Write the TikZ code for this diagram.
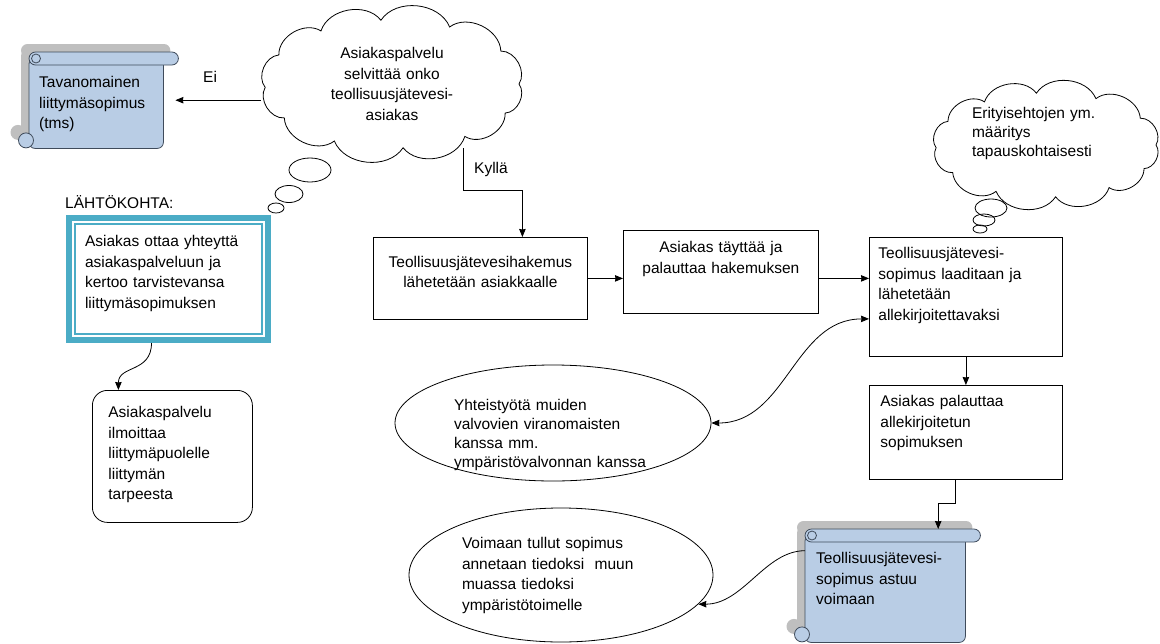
\documentclass[tikz,border=0pt]{standalone}
\usepackage{fontspec}
\setmainfont{Liberation Sans}
\usetikzlibrary{shapes.geometric,arrows.meta,backgrounds}

\definecolor{scrollblue}{HTML}{B9CDE5}
\definecolor{scrolledge}{HTML}{3F4B5B}
\definecolor{shadowgray}{HTML}{BFBFBF}
\definecolor{tealframe}{HTML}{4BACC6}

% scroll outline: node name, style, x offset, y offset
\newcommand\scrollpieces[4]{%
  \path[#2, rounded corners=6pt] ([xshift=#3, yshift=#4, yshift=-6pt]#1.north west) rectangle ([xshift=#3, yshift=#4]#1.south east);
  \path[#2, rounded corners=6.5pt] ([xshift=#3, yshift=#4]#1.north west) rectangle ([xshift=#3, xshift=15pt, yshift=#4, yshift=-13pt]#1.north east);
  \path[#2] ([xshift=#3, xshift=-3pt, yshift=#4, yshift=8pt]#1.south west) circle[radius=7.5pt];
  \path[#2] ([xshift=#3, xshift=7pt, yshift=#4, yshift=-6.5pt]#1.north west) circle[radius=4.5pt];
}
\newcommand\drawscroll[1]{%
  \begin{scope}[on background layer]
    \scrollpieces{#1}{fill=shadowgray}{-8pt}{8pt}
    \scrollpieces{#1}{fill=scrollblue, draw=scrolledge, line width=0.8pt}{0pt}{0pt}
  \end{scope}
}
% cloud outline round a node: node name, x radius, y radius
\newcommand\cloudline[3]{%
  \draw[line width=0.8pt] ([shift={(0:#2 and #3)}]#1.center)
    \foreach \ang in {31,63,95,124,153,183,212,243,275,305,333,360} {to[bend right=62] ([shift={(\ang:#2 and #3)}]#1.center)};
}

\begin{document}
\begin{tikzpicture}[x=1pt, y=1pt,
    diagfont/.style={font=\fontsize{15.5}{20.5}\selectfont},
    tightfont/.style={font=\fontsize{15.5}{19}\selectfont},
    procbox/.style={draw, line width=0.8pt, anchor=north west, inner ysep=0pt, diagfont},
    scrollnode/.style={anchor=north west, inner ysep=0pt, align=left, diagfont},
    oval/.style={ellipse, draw, line width=0.8pt, inner sep=0pt, align=left, diagfont},
    cloudtext/.style={ellipse, inner sep=0pt, diagfont},
    flow/.style={draw, line width=0.8pt, ->, >={Stealth[length=8pt, width=6.5pt, inset=0.5pt]}},
    bubble/.style={draw, line width=0.8pt}]
    \useasboundingbox (0,0) rectangle (1160,-643);

    % Scrolls
    \node[scrollnode, inner xsep=10pt, text width=114pt, text height=35.5pt, text depth=60.5pt] (tavanomainen) at (29,-52) {Tavanomainen\\ liittymäsopimus\\ (tms)};
    \drawscroll{tavanomainen}
    \node[scrollnode, inner xsep=11pt, text width=138pt, text height=34.5pt, text depth=78.5pt] (voimaan) at (805,-529) {Teollisuusjätevesi-\\ sopimus astuu\\ voimaan};
    \drawscroll{voimaan}

    % Thought clouds
    \node[cloudtext, minimum width=262pt, minimum height=146pt, align=center, text width=124pt, text height=11pt, text depth=62pt] (selvitys) at (392,-84) {Asiakaspalvelu\\ selvittää onko\\ teollisuusjätevesi-\\ asiakas};
    \cloudline{selvitys}{127pt}{64pt}
    \draw[bubble] (310,-170) ellipse [x radius=21pt, y radius=12pt];
    \draw[bubble] (289,-194) ellipse [x radius=14pt, y radius=8.5pt];
    \draw[bubble] (276,-208) ellipse [x radius=8pt, y radius=5pt];

    \node[cloudtext, tightfont, minimum width=222pt, minimum height=112pt, align=left, text width=148pt, text height=11pt, text depth=65pt] (erityis) at (1046,-145) {Erityisehtojen ym.\\ määritys\\ tapauskohtaisesti};
    \cloudline{erityis}{110pt}{52pt}
    \draw[bubble] (991,-208) ellipse [x radius=16pt, y radius=9pt];
    \draw[bubble] (984,-220) ellipse [x radius=11pt, y radius=6pt];
    \draw[bubble] (980,-229) ellipse [x radius=7pt, y radius=4pt];

    % Starting point
    \node[diagfont, anchor=base west, inner sep=0pt] (lahtokohta) at (65,-208.5) {LÄHTÖKOHTA:};
    \node[procbox, draw=tealframe, line width=6pt, inner xsep=16pt, align=left, text width=167pt, text height=28.5pt, text depth=93.5pt,
        path picture={\draw[tealframe, line width=1.5pt] ([xshift=6pt, yshift=-6pt]path picture bounding box.north west) rectangle ([xshift=-6pt, yshift=6pt]path picture bounding box.south east);}]
        (yhteys) at (66,-215) {Asiakas ottaa yhteyttä\\ asiakaspalveluun ja\\ kertoo tarvistevansa\\ liittymäsopimuksen};
    \node[procbox, rounded corners=15pt, inner xsep=16pt, align=left, text width=128pt, text height=27.5pt, text depth=104.5pt] (ilmoitus) at (92,-390) {Asiakaspalvelu\\ ilmoittaa\\ liittymäpuolelle\\ liittymän\\ tarpeesta};

    % Process boxes
    \node[procbox, inner xsep=6pt, align=center, text width=202pt, text height=30pt, text depth=52pt] (hakemus) at (373,-237) {Teollisuusjätevesihakemus\\ lähetetään asiakkaalle};
    \node[procbox, inner xsep=6pt, align=center, text width=183pt, text height=22.5pt, text depth=60.5pt] (palautus) at (623,-230) {Asiakas täyttää ja\\ palauttaa hakemuksen};
    \node[procbox, inner xsep=9pt, align=left, text width=175pt, text height=21.5pt, text depth=97.5pt] (laadinta) at (869,-237) {Teollisuusjätevesi-\\ sopimus laaditaan ja\\ lähetetään\\ allekirjoitettavaksi};
    \node[procbox, inner xsep=11pt, align=left, text width=171pt, text height=21.5pt, text depth=72.5pt] (allekirjoitus) at (869,-385) {Asiakas palauttaa\\ allekirjoitetun\\ sopimuksen};

    % Ovals
    \node[oval, tightfont, minimum width=316pt, minimum height=116pt, text width=198pt, text height=25.5pt, text depth=50.5pt] (yhteistyo) at (553,-423) {Yhteistyötä muiden\\ valvovien viranomaisten\\ kanssa mm.\\ ympäristövalvonnan kanssa};
    \node[oval, minimum width=304pt, minimum height=134pt, text width=198pt, text height=13.5pt, text depth=66.5pt] (tiedoksi) at (561,-575) {Voimaan tullut sopimus\\ annetaan tiedoksi\ \ muun\\ muassa tiedoksi\\ ympäristötoimelle};

    % Arrows
    \draw[flow] (selvitys.west |- tavanomainen.east) -- ([xshift=12pt]tavanomainen.east);
    \node[diagfont, anchor=base west, inner sep=0pt] (ei) at (203,-82) {Ei};
    \draw[flow] ([xshift=71pt, yshift=9pt]selvitys.south) -- ++(0,-42) -| ([xshift=42pt]hakemus.north);
    \node[diagfont, anchor=base west, inner sep=0pt] (kylla) at (474,-173) {Kyllä};
    \draw[flow] (hakemus.east) -- (hakemus.east -| palautus.west);
    \draw[flow] (palautus.east |- hakemus.east) -- (laadinta.west |- hakemus.east);
    \draw[flow] (laadinta.south) -- (allekirjoitus.north);
    \draw[flow] ([xshift=-10.5pt]allekirjoitus.south) -- ++(0,-24) -| ([xshift=53pt]voimaan.north);
    \draw[flow, <->] (yhteistyo.east) .. controls +(75,0) and +(-75,0) .. ([yshift=-22pt]laadinta.west);
    \draw[flow] ([yshift=35pt]voimaan.west) .. controls +(-40,0) and +(45,0) .. (tiedoksi.-12);
    \draw[flow] ([xshift=-17pt]yhteys.south) .. controls +(0,-30) and +(0,25) .. ([xshift=-54pt]ilmoitus.north);
\end{tikzpicture}
\end{document}
